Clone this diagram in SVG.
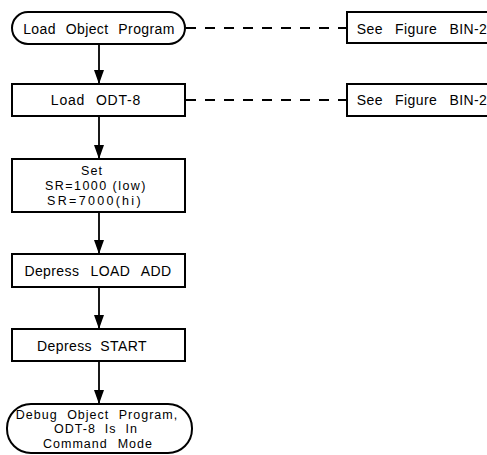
<svg xmlns="http://www.w3.org/2000/svg" width="487" height="455" viewBox="0 0 487 455">
<style>
.s{fill:#fff;stroke:#000;stroke-width:2}
.t{font-family:"Liberation Sans",Arial,sans-serif;font-size:14px;fill:#000;text-anchor:middle;letter-spacing:0.4px}
.m{font-size:12.5px;letter-spacing:1px}
.c{stroke:#000;stroke-width:1.8;fill:none}
.d{stroke:#000;stroke-width:1.8;fill:none;stroke-dasharray:10 9}
</style>
<defs>
<marker id="ar" viewBox="0 0 14 10" refX="14" refY="5" markerWidth="14" markerHeight="10" markerUnits="userSpaceOnUse" orient="auto">
<path d="M0,0 L14,5 L0,10 Z" fill="#000"/>
</marker>
</defs>
<rect width="487" height="455" fill="#fff"/>
<g id="connectors">
<line class="c" x1="99" y1="44" x2="99" y2="84" marker-end="url(#ar)"/>
<line class="c" x1="99" y1="116" x2="99" y2="159" marker-end="url(#ar)"/>
<line class="c" x1="99" y1="212" x2="99" y2="254" marker-end="url(#ar)"/>
<line class="c" x1="99" y1="287" x2="99" y2="329" marker-end="url(#ar)"/>
<line class="c" x1="99" y1="361" x2="99" y2="404" marker-end="url(#ar)"/>
<line class="d" x1="186" y1="28" x2="347" y2="28"/>
<line class="d" x1="186" y1="100" x2="347" y2="100"/>
</g>
<g id="n1">
<rect class="s" x="12" y="12" width="173" height="32" rx="16"/>
<text class="t" x="99" y="34" style="word-spacing:5.5px">Load Object Program</text>
</g>
<g id="n2">
<rect class="s" x="12" y="84" width="173" height="32"/>
<text class="t" x="96" y="105" style="word-spacing:6px;letter-spacing:0.8px">Load ODT-8</text>
</g>
<g id="n3">
<rect class="s" x="12" y="159" width="173" height="53"/>
<text class="t m" x="92" y="175">Set</text>
<text class="t m" x="96" y="190" style="letter-spacing:1.45px">SR=1000 (low)</text>
<text class="t m" x="95" y="205" style="letter-spacing:2.3px">SR=7000(hi)</text>
</g>
<g id="n4">
<rect class="s" x="12" y="254" width="173" height="33"/>
<text class="t" x="98" y="276" style="word-spacing:7px">Depress LOAD ADD</text>
</g>
<g id="n5">
<rect class="s" x="12" y="329" width="173" height="32"/>
<text class="t" x="92" y="351" style="word-spacing:4px">Depress START</text>
</g>
<g id="n6">
<rect class="s" x="7" y="404" width="185" height="49" rx="24"/>
<text class="t m" x="97" y="418.6" style="word-spacing:5px">Debug Object Program,</text>
<text class="t m" x="96" y="433.3" style="word-spacing:4.5px">ODT-8 Is In</text>
<text class="t m" x="98" y="448" style="word-spacing:5.5px">Command Mode</text>
</g>
<g id="r1">
<rect class="s" x="347" y="12" width="150" height="31"/>
<text class="t" x="422" y="34" style="word-spacing:8px">See Figure BIN-2</text>
</g>
<g id="r2">
<rect class="s" x="347" y="84" width="150" height="32"/>
<text class="t" x="422" y="105" style="word-spacing:8px">See Figure BIN-2</text>
</g>
</svg>
